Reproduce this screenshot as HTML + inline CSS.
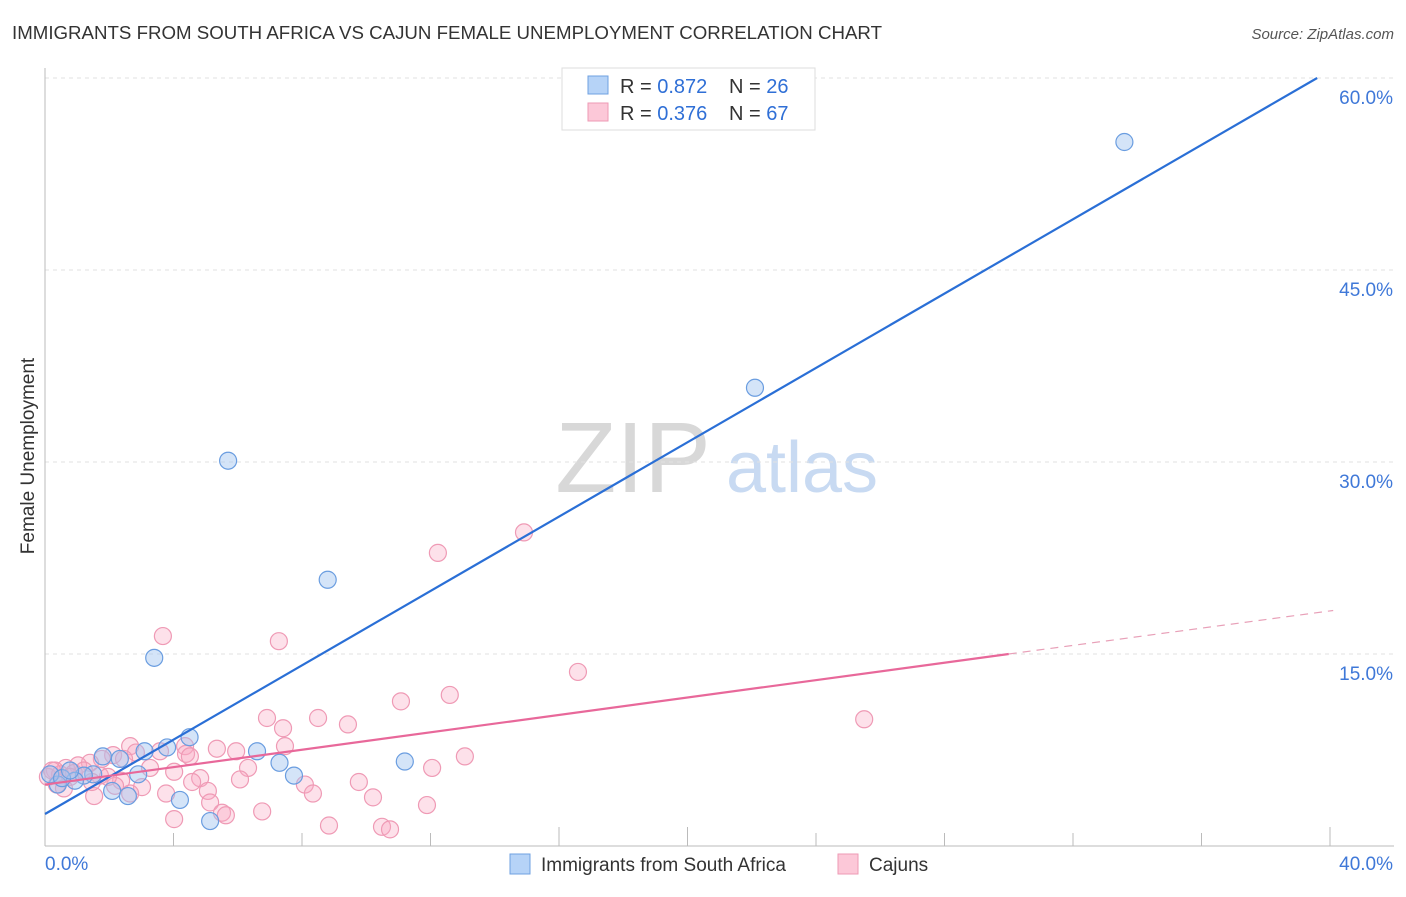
<!DOCTYPE html>
<html><head><meta charset="utf-8"><style>
body{margin:0;background:#fff;font-family:"Liberation Sans",sans-serif}
svg text{font-family:"Liberation Sans",sans-serif}
</style></head><body>
<svg width="1406" height="892">
<text x="12" y="39" font-size="18" fill="#333" textLength="870" lengthAdjust="spacingAndGlyphs">IMMIGRANTS FROM SOUTH AFRICA VS CAJUN FEMALE UNEMPLOYMENT CORRELATION CHART</text>
<text x="1394" y="39" font-size="15" fill="#555" text-anchor="end" font-style="italic">Source: ZipAtlas.com</text>
<text x="34" y="456" font-size="19" fill="#333" text-anchor="middle" transform="rotate(-90 34 456)">Female Unemployment</text>
<text x="633" y="492" font-size="100" fill="#d8d8d8" font-family="Liberation Serif" text-anchor="middle">ZIP</text>
<text x="802" y="492" font-size="72" fill="#c8daf2" text-anchor="middle">atlas</text>
<g id="grid"></g><g id="axes"></g><g id="pts"></g><g id="lines"></g>
<g>
<rect x="562" y="68" width="253" height="62" fill="#fff" stroke="#ddd"/>
<rect x="588" y="76" width="20" height="18" fill="#b6d3f7" stroke="#6fa0e0"/>
<text x="620" y="93" font-size="20" fill="#333">R = <tspan fill="#2f6fd6">0.872</tspan></text>
<text x="729" y="93" font-size="20" fill="#333">N = <tspan fill="#2f6fd6">26</tspan></text>
<rect x="588" y="103" width="20" height="18" fill="#fcc8d8" stroke="#ee9ab4"/>
<text x="620" y="120" font-size="20" fill="#333">R = <tspan fill="#2f6fd6">0.376</tspan></text>
<text x="729" y="120" font-size="20" fill="#333">N = <tspan fill="#2f6fd6">67</tspan></text>
</g>
<g>
<rect x="510" y="854" width="20" height="20" fill="#b6d3f7" stroke="#6fa0e0"/>
<text x="541" y="871" font-size="19" fill="#333">Immigrants from South Africa</text>
<rect x="838" y="854" width="20" height="20" fill="#fcc8d8" stroke="#ee9ab4"/>
<text x="869" y="871" font-size="19" fill="#333">Cajuns</text>
</g>
</svg>
<script>
const yTicks=[15,30,45,60];
const xTickVals=[0,4,8,12,16,20,24,28,32,36,40];
const blueX=[33.6,22.1,5.7,8.8,3.4,4.5,3.8,3.1,6.6,7.3,11.2,7.75,2.9,2.33,1.8,1.5,1.21,0.93,0.4,0.16,0.53,2.09,2.58,4.2,5.14,0.78];
const blueY=[55.0,35.8,30.1,20.8,14.7,8.5,7.7,7.4,7.4,6.5,6.6,5.5,5.6,6.8,7.0,5.6,5.5,5.1,4.8,5.6,5.3,4.3,3.9,3.6,1.95,5.9];
const pinkX=[3.67,7.28,12.23,14.91,16.59,12.6,11.08,8.5,6.91,7.41,9.43,25.5,13.07,12.05,7.47,5.35,5.95,4.36,2.65,2.83,2.12,1.77,1.4,1.03,0.65,0.31,0.09,0.47,0.9,3.27,4.02,6.32,4.83,6.07,4.58,8.09,8.34,9.77,2.37,3.02,3.77,5.07,5.14,5.51,5.63,6.76,10.21,11.89,4.02,8.84,10.49,10.74,1.53,2.65,2.18,1.71,0.37,0.22,1.21,4.39,4.51,3.58,2.46,0.78,1.96,0.59,1.46];
const pinkY=[16.4,16.0,22.9,24.5,13.6,11.8,11.3,10.0,10.0,9.2,9.5,9.9,7.0,6.1,7.8,7.6,7.4,7.8,7.8,7.3,7.1,6.8,6.5,6.3,6.1,5.9,5.4,5.6,5.7,6.1,5.8,6.1,5.3,5.2,5.0,4.8,4.1,5.0,5.1,4.6,4.1,4.3,3.4,2.6,2.4,2.7,3.8,3.2,2.1,1.6,1.5,1.3,3.9,4.1,4.7,5.5,4.8,5.9,5.9,7.2,7.0,7.4,6.8,5.4,5.4,4.5,5.0];
const blueLine=[[0,2.5],[39.6,60]];
const pinkSolid=[[0,4.8],[30.0,15.0]];
const pinkDash=[[30.0,15.0],[40.1,18.4]];
const X=v=>45+v*32.125, Y=v=>846-v*12.8;
const NS='http://www.w3.org/2000/svg';
function mk(t,a,p){const e=document.createElementNS(NS,t);for(const k in a)e.setAttribute(k,a[k]);p.appendChild(e);return e;}
const grid=document.getElementById('grid'),axes=document.getElementById('axes'),pts=document.getElementById('pts'),lines=document.getElementById('lines');
yTicks.forEach(v=>{
 const l=mk('line',{x1:45,x2:1394,y1:Y(v),y2:Y(v),stroke:'#e2e2e2','stroke-dasharray':'4,4'},grid);
 
 
 const t=mk('text',{x:1393,y:Y(v)+26,'font-size':19,fill:'#3f78d8','text-anchor':'end'},grid);
 t.textContent=v.toFixed(1)+'%';
 
 
});
const ya=mk('line',{x1:45,x2:45,y1:68,y2:846,stroke:'#bbb'},axes);


const xa=mk('line',{x1:45,x2:1394,y1:846,y2:846,stroke:'#bbb'},axes);


xTickVals.forEach((v,i)=>{
 const tk=mk('line',{x1:X(v),x2:X(v),y1:(i==4||i==5||i==10)?827:833,y2:846,stroke:'#bbb'},axes);
 
 
});
[[0,'start','0.0%'],[40,'end','40.0%']].forEach(a=>{
 const t=mk('text',{x:a[0]==0?45:1393,y:870,'font-size':19,fill:'#3f78d8','text-anchor':a[1]},axes);
 t.textContent=a[2];
 
 
});
pinkX.forEach((v,i)=>{
 const c=mk('circle',{cx:X(v),cy:Y(pinkY[i]),r:8.5,fill:'rgba(248,170,195,0.35)',stroke:'#ef9ab5','stroke-width':1.2},pts);
 
 
});
blueX.forEach((v,i)=>{
 const c=mk('circle',{cx:X(v),cy:Y(blueY[i]),r:8.5,fill:'rgba(160,195,240,0.45)',stroke:'#6a9de0','stroke-width':1.2},pts);
 
 
});
const bl=mk('line',{x1:X(blueLine[0][0]),y1:Y(blueLine[0][1]),x2:X(blueLine[1][0]),y2:Y(blueLine[1][1]),stroke:'#2a6fd6','stroke-width':2.2},lines);


const pl=mk('line',{x1:X(pinkSolid[0][0]),y1:Y(pinkSolid[0][1]),x2:X(pinkSolid[1][0]),y2:Y(pinkSolid[1][1]),stroke:'#e8689a','stroke-width':2.2},lines);


const pd=mk('line',{x1:X(pinkDash[0][0]),y1:Y(pinkDash[0][1]),x2:X(pinkDash[1][0]),y2:Y(pinkDash[1][1]),stroke:'#e8a0b8','stroke-width':1.2,'stroke-dasharray':'8,6'},lines);


</script>
</body></html>
